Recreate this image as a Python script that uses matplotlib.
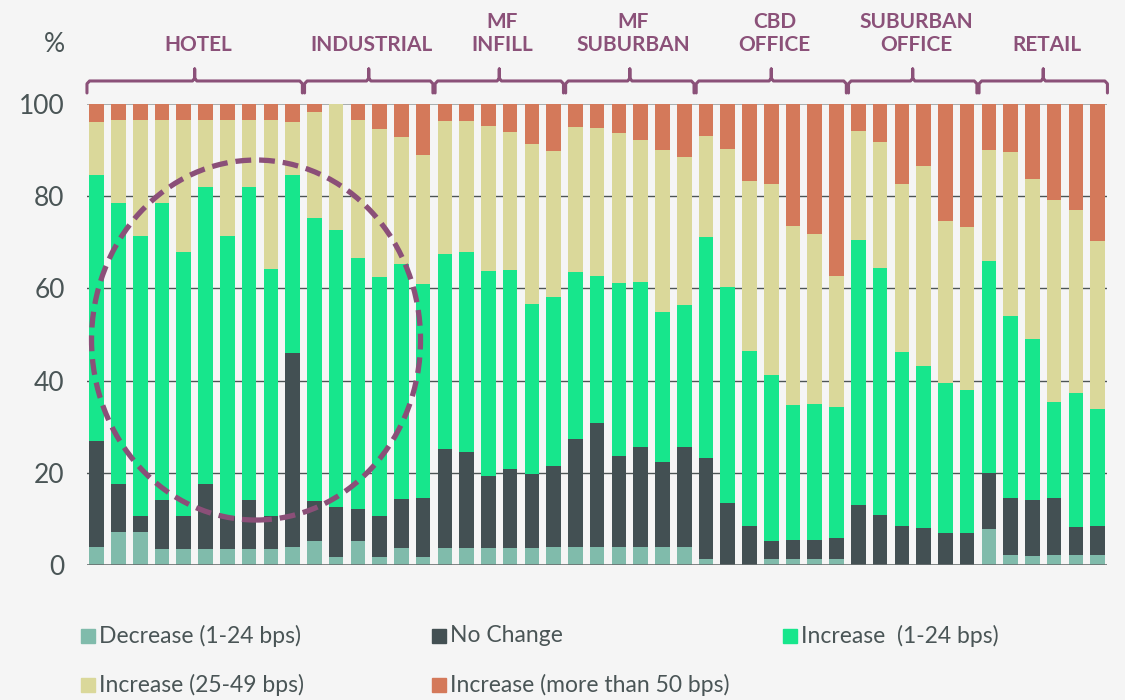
import numpy as np
import matplotlib
matplotlib.use("Agg")
import matplotlib.pyplot as plt
from matplotlib.patches import Ellipse, Rectangle
from matplotlib.path import Path
from matplotlib.patches import PathPatch

# %% Data (share of respondents, %)

group_names = ["HOTEL", "INDUSTRIAL", "MF\nINFILL", "MF\nSUBURBAN",
               "CBD\nOFFICE", "SUBURBAN\nOFFICE", "RETAIL"]
group_sizes = [10, 6, 6, 6, 7, 6, 6]

series_labels = ["Decrease (1-24 bps)", "No Change", "Increase  (1-24 bps)",
                 "Increase (25-49 bps)", "Increase (more than 50 bps)"]

decrease = [3.8, 7.1, 7.1, 3.5, 3.5, 3.5, 3.5, 3.5, 3.5, 3.8,
            5.2, 1.8, 5.2, 1.8, 3.6, 1.8,
            3.6, 3.6, 3.6, 3.6, 3.6, 3.8,
            3.8, 3.8, 3.8, 3.8, 3.8, 3.8,
            1.4, 0.0, 0.0, 1.2, 1.4, 1.4, 1.4,
            0.0, 0.0, 0.0, 0.0, 0.0, 0.0,
            7.9, 2.1, 2.0, 2.1, 2.1, 2.1]
no_change = [23.1, 10.5, 3.5, 10.7, 7.1, 14.1, 7.1, 10.7, 7.1, 42.2,
             8.7, 10.8, 6.9, 8.8, 10.8, 12.8,
             21.6, 21.0, 15.6, 17.2, 16.1, 17.7,
             23.6, 26.9, 19.9, 21.7, 18.6, 21.7,
             21.9, 13.5, 8.5, 4.0, 4.1, 4.1, 4.5,
             13.1, 10.9, 8.5, 8.0, 6.9, 6.9,
             12.1, 12.5, 12.2, 12.5, 6.2, 6.4]
increase_small = [57.7, 60.9, 60.7, 64.3, 57.2, 64.5, 60.7, 67.9, 53.6, 38.6,
                  61.4, 60.1, 54.5, 51.8, 51.0, 46.4,
                  42.3, 43.2, 44.6, 43.2, 37.0, 36.6,
                  36.2, 32.0, 37.5, 35.9, 32.5, 30.8,
                  47.8, 46.7, 37.9, 36.0, 29.1, 29.5, 28.4,
                  57.4, 53.5, 37.8, 35.2, 32.5, 31.1,
                  45.9, 39.4, 34.8, 20.8, 29.1, 25.3]
increase_mid = [11.6, 18.0, 25.2, 18.0, 28.7, 14.4, 25.2, 14.4, 32.3, 11.6,
                23.0, 27.3, 29.9, 32.2, 27.4, 27.9,
                28.8, 28.5, 31.4, 29.9, 34.6, 31.7,
                31.4, 32.1, 32.5, 30.9, 35.1, 32.1,
                22.0, 30.1, 36.8, 41.4, 38.9, 36.7, 28.3,
                23.6, 27.4, 36.3, 43.3, 35.3, 35.3,
                24.1, 35.5, 34.7, 43.7, 39.6, 36.4]
increase_large = [3.8, 3.5, 3.5, 3.5, 3.5, 3.5, 3.5, 3.5, 3.5, 3.8,
                  1.7, 0.0, 3.5, 5.4, 7.2, 11.1,
                  3.7, 3.7, 4.8, 6.1, 8.7, 10.2,
                  5.0, 5.2, 6.3, 7.7, 10.0, 11.6,
                  6.9, 9.7, 16.8, 17.4, 26.5, 28.3, 37.4,
                  5.9, 8.2, 17.4, 13.5, 25.3, 26.7,
                  10.0, 10.5, 16.3, 20.9, 23.0, 29.8]

series = [decrease, no_change, increase_small, increase_mid, increase_large]
colors = ["#80bbab", "#435053", "#17e68c", "#dad89a", "#d4795a"]

# %% Style

bg = "#f5f5f5"
purple = "#8b5179"
text_gray = "#4a5556"
plt.rcParams["font.family"] = ["Lato", "DejaVu Sans"]

fig = plt.figure(figsize=(11.25, 7), dpi=100, facecolor=bg)
ax = fig.add_axes([0.0773, 0.1929, 0.9067, 0.6585], facecolor=bg)

x = np.arange(sum(group_sizes))
bottom = np.zeros(len(x))
for vals, col in zip(series, colors):
    ax.bar(x, vals, bottom=bottom, width=0.67, color=col, zorder=2)
    bottom += np.array(vals)

ax.set_xlim(-0.45, len(x) - 1 + 0.43)
ax.set_ylim(0, 100)
ax.set_yticks([0, 20, 40, 60, 80, 100])
ax.tick_params(axis="y", length=0, pad=16, labelsize=19, labelcolor=text_gray)
ax.set_xticks([])
for s in ax.spines.values():
    s.set_visible(False)

for yv in [20, 40, 60, 80]:
    ax.axhline(yv, color="#4d5555", lw=1.0, zorder=1)
ax.axhline(100, color="#9aa0a0", lw=1.2, zorder=1)
ax.axhline(0, color="#6a7070", lw=1.2, zorder=3)

ax.text(-1.45, 111.3, "%", ha="right", va="baseline", fontsize=19,
        color=text_gray, clip_on=False)

# %% Group headers with brackets

start = 0
for name, n in zip(group_names, group_sizes):
    x0 = start - 0.45
    x1 = start + n - 1 + 0.45
    mid = (x0 + x1) / 2
    verts = [(x0, 102.4), (x0, 104.4), (x0 + 0.12, 105.0), (mid - 0.1, 105.0),
             (mid, 105.6), (mid, 107.6), (mid, 105.6), (mid + 0.1, 105.0),
             (x1 - 0.12, 105.0), (x1, 104.4), (x1, 102.4)]
    ax.add_patch(PathPatch(Path(verts), fill=False, edgecolor=purple, lw=2.2,
                           capstyle="round", joinstyle="round", clip_on=False))
    ax.text(mid + 0.15, 110.6, name, ha="center", va="bottom", fontsize=15,
            fontweight="bold", color=purple, linespacing=1.2, clip_on=False)
    start += n

# dashed highlight circle
ax.add_patch(Ellipse((7.32, 48.8), 15.12, 78.1, fill=False, edgecolor="#8b4f78",
                     lw=3.8, linestyle=(0, (3.0, 1.5)), zorder=5))

# %% Legend (row-wise, placed by hand)

legend_pos = [(81, 636), (432, 636), (783, 636), (81, 685), (432, 685)]
for (px, py), lab, col in zip(legend_pos, series_labels, colors):
    fig.add_artist(Rectangle((px / 1125, (700 - py - 7) / 700), 14 / 1125, 14 / 700,
                             transform=fig.transFigure, color=col))
    fig.text((px + 18) / 1125, (700 - py) / 700, lab, ha="left", va="center",
             fontsize=16.5, color=text_gray)

fig.savefig("out.png", dpi=100, facecolor=bg)
